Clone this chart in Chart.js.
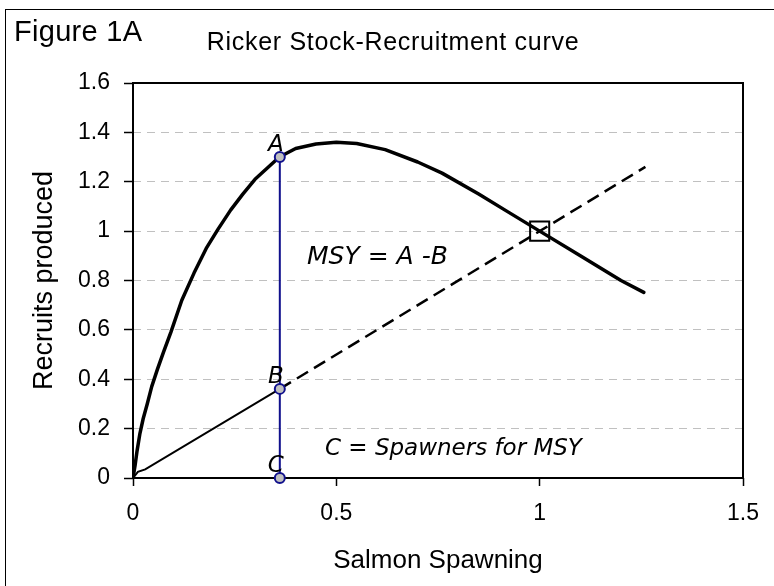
<!DOCTYPE html>
<html>
<head>
<meta charset="utf-8">
<script src="https://cdn.jsdelivr.net/npm/chart.js@4.4.1/dist/chart.umd.min.js"></script>
<style>
  html, body { margin: 0; padding: 0; background: #fff; overflow: hidden; }
  #wrap { position: relative; width: 774px; height: 586px; overflow: hidden; }
  #frame { position: absolute; left: 5px; top: 9px; width: 820px; height: 640px; border-left: 1px solid #000; border-top: 1px solid #000; box-sizing: border-box; }
  #fig { position: absolute; left: 14px; top: 15px; font: 29px "Liberation Sans", Arial, sans-serif; letter-spacing: 0.3px; color: #000; white-space: nowrap; }
  #title { position: absolute; left: 393px; top: 27px; transform: translateX(-50%); font: 25px "Liberation Sans", Arial, sans-serif; letter-spacing: 0.7px; color: #000; white-space: nowrap; }
  canvas { position: absolute; left: 0; top: 0; }
</style>
</head>
<body>
<div id="wrap">
  <div id="frame"></div>
  <canvas id="c" width="774" height="586"></canvas>
  <div id="fig">Figure 1A</div>
  <div id="title">Ricker Stock-Recruitment curve</div>
</div>
<script>
// ---- data ----
const spawners = [0, 0.005, 0.01, 0.017, 0.025, 0.035, 0.046, 0.06, 0.075, 0.093, 0.12, 0.15, 0.18, 0.21, 0.24, 0.27, 0.3, 0.36, 0.4, 0.45, 0.5, 0.55, 0.62, 0.7, 0.76, 0.85, 0.92, 1.0, 1.1, 1.2, 1.256];
const recruits = [0, 0.05, 0.11, 0.18, 0.24, 0.3, 0.37, 0.44, 0.51, 0.59, 0.72, 0.83, 0.93, 1.01, 1.085, 1.15, 1.21, 1.30, 1.335, 1.353, 1.36, 1.355, 1.33, 1.28, 1.235, 1.15, 1.08, 1.0, 0.9, 0.8, 0.752];
const replacementLowS = [0, 0.012, 0.03, 0.361];
const replacementLowR = [0, 0.025, 0.035, 0.361];
const replacementHighS = [0.361, 1.0, 1.26];
const replacementHighR = [0.361, 1.0, 1.26];
const msySpawners = 0.361;
const msyLabels = ["A", "B", "C"];
const msyValues = [1.30, 0.361, 0];
const equilibriumS = [1.0];
const equilibriumR = [1.0];
const xTicks = [0, 0.5, 1, 1.5];
const yTicks = [0, 0.2, 0.4, 0.6, 0.8, 1, 1.2, 1.4, 1.6];
const noteMsy = "MSY = A -B";
const noteC = "C = Spawners for MSY";
const xTitle = "Salmon Spawning";
const yTitle = "Recruits produced";

const pts = (xs, ys) => xs.map((x, i) => ({ x: x, y: ys[i] }));

const annotations = {
  id: 'annotations',
  beforeDatasetsDraw(chart) {
    const { ctx, chartArea: a } = chart;
    ctx.save();
    ctx.strokeStyle = '#000';
    ctx.lineWidth = 2;
    ctx.strokeRect(a.left, a.top, a.right - a.left, a.bottom - a.top);
    ctx.restore();
  },
  afterDatasetsDraw(chart) {
    const { ctx, scales: { x, y } } = chart;
    ctx.save();
    ctx.fillStyle = '#000';
    ctx.font = 'oblique 23px "DejaVu Sans"';
    ctx.textAlign = 'center';
    ctx.textBaseline = 'alphabetic';
    msyLabels.forEach((lab, i) => {
      ctx.fillText(lab, x.getPixelForValue(msySpawners) - 4, y.getPixelForValue(msyValues[i]) - 6);
    });
    ctx.textAlign = 'left';
    ctx.textBaseline = 'middle';
    ctx.font = 'oblique 25px "DejaVu Sans"';
    ctx.fillText(noteMsy, x.getPixelForValue(0.428), y.getPixelForValue(0.893));
    ctx.font = 'oblique 23px "DejaVu Sans"';
    ctx.fillText(noteC, x.getPixelForValue(0.472), y.getPixelForValue(0.118));
    ctx.restore();
  }
};

new Chart(document.getElementById('c'), {
  type: 'scatter',
  data: {
    datasets: [
      {
        label: 'MSY',
        data: msyValues.map(v => ({ x: msySpawners, y: v })),
        showLine: true,
        borderColor: '#10108c',
        borderWidth: 2,
        pointRadius: 5,
        pointBorderWidth: 2,
        pointBackgroundColor: '#c0c0c0',
        pointBorderColor: '#10108c',
        clip: false
      },
      {
        label: 'Equilibrium',
        data: pts(equilibriumS, equilibriumR),
        showLine: false,
        pointStyle: 'rect',
        pointRadius: 13.5,
        pointBorderWidth: 2,
        pointBorderColor: '#000',
        pointBackgroundColor: 'rgba(0,0,0,0)'
      },
      {
        label: 'Ricker',
        data: pts(spawners, recruits),
        showLine: true,
        borderColor: '#000',
        borderWidth: 3.5,
        borderJoinStyle: 'round',
        borderCapStyle: 'round',
        pointRadius: 0,
        tension: 0
      },
      {
        label: 'Replacement low',
        data: pts(replacementLowS, replacementLowR),
        showLine: true,
        borderColor: '#000',
        borderWidth: 2,
        pointRadius: 0,
        tension: 0
      },
      {
        label: 'Replacement',
        data: pts(replacementHighS, replacementHighR),
        showLine: true,
        borderColor: '#000',
        borderWidth: 2.5,
        borderDash: [13, 7],
        pointRadius: 0,
        tension: 0
      }
    ]
  },
  options: {
    responsive: false,
    animation: false,
    layout: { padding: { left: 5, right: 31, top: 83, bottom: 0 } },
    plugins: { legend: { display: false }, tooltip: { enabled: false }, title: { display: false } },
    scales: {
      x: {
        type: 'linear', min: 0, max: 1.5,
        afterBuildTicks: (s) => { s.ticks = xTicks.map(v => ({ value: v })); },
        afterFit: (s) => { s.height = 108; },
        ticks: { color: '#000', font: { family: '"Liberation Sans", Arial', size: 23 }, padding: 14, maxRotation: 0,
                 callback: (v) => String(Number(v.toFixed(2))) },
        grid: { drawOnChartArea: false, drawTicks: true, tickLength: 8, tickColor: '#000', tickWidth: 1.5 },
        border: { display: false },
        title: { display: true, text: xTitle, color: '#000', font: { family: '"Liberation Sans", Arial', size: 26 }, padding: { top: 0, bottom: 10 } }
      },
      y: {
        type: 'linear', min: 0, max: 1.6,
        afterBuildTicks: (s) => { s.ticks = yTicks.map(v => ({ value: v })); },
        afterFit: (s) => { s.width = 128; },
        ticks: { color: '#000', font: { family: '"Liberation Sans", Arial', size: 23 }, padding: 14,
                 callback: (v) => String(Number(v.toFixed(2))) },
        grid: { color: '#c0c0c0', lineWidth: 1, drawTicks: true, tickLength: 9, tickColor: '#000', tickWidth: 1.5 },
        border: { display: false, dash: [8, 6] },
        title: { display: true, text: yTitle, color: '#000', font: { family: '"Liberation Sans", Arial', size: 27 }, padding: { top: 23, bottom: 0 } }
      }
    }
  },
  plugins: [annotations]
});
</script>
</body>
</html>
